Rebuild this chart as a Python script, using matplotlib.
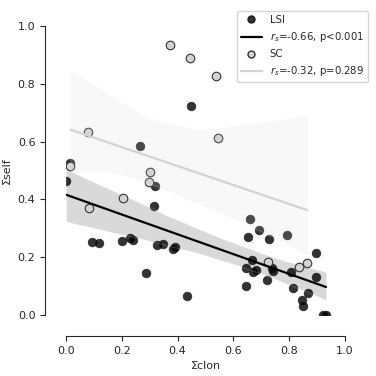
import matplotlib
matplotlib.use('Agg')
import matplotlib.pyplot as plt
import numpy as np
import seaborn as sns
from matplotlib.lines import Line2D

# LSI group
lsi_clon = [0.000, 0.014, 0.092, 0.117, 0.199, 0.229, 0.241, 0.265, 0.288, 0.317,
            0.320, 0.325, 0.348, 0.385, 0.391, 0.432, 0.447, 0.645, 0.645, 0.653,
            0.661, 0.667, 0.671, 0.681, 0.690, 0.719, 0.729, 0.738, 0.742, 0.791,
            0.806, 0.815, 0.846, 0.851, 0.869, 0.895, 0.895, 0.922, 0.932]
lsi_self = [0.465, 0.527, 0.254, 0.250, 0.255, 0.266, 0.258, 0.585, 0.146, 0.377,
            0.447, 0.242, 0.245, 0.228, 0.234, 0.067, 0.723, 0.162, 0.101, 0.271,
            0.332, 0.189, 0.149, 0.156, 0.294, 0.121, 0.264, 0.163, 0.152, 0.276,
            0.148, 0.092, 0.052, 0.032, 0.075, 0.133, 0.213, 0.000, 0.000]

# SC group
sc_clon = [0.016, 0.079, 0.081, 0.203, 0.296, 0.300, 0.373, 0.443, 0.536, 0.545,
           0.725, 0.836, 0.865]
sc_self = [0.517, 0.632, 0.370, 0.404, 0.459, 0.495, 0.934, 0.889, 0.826, 0.611,
           0.184, 0.165, 0.181]

lsi_label = r'$r_s$=-0.66, p<0.001'
sc_label = r'$r_s$=-0.32, p=0.289'

sns.set_style('ticks')
plt.rcParams['font.size'] = 8

fig = plt.figure(figsize=(3.76, 3.76), dpi=100)
ax = fig.add_axes([66 / 376, 61 / 376, 279 / 376, 289 / 376])

sns.regplot(x=np.array(lsi_clon), y=np.array(lsi_self), ax=ax, color='black', seed=1,
            scatter_kws=dict(s=38, edgecolors='#1a1a1a', linewidths=0.6),
            line_kws=dict(lw=1.6))
sns.regplot(x=np.array(sc_clon), y=np.array(sc_self), ax=ax, color='lightgray', seed=1,
            ci=90,
            scatter_kws=dict(s=38, edgecolors='#333333', linewidths=0.8, alpha=1.0),
            line_kws=dict(lw=1.6))

ax.set_xlim(0, 1)
ax.set_ylim(0, 1)
ax.set_xticks([0.0, 0.2, 0.4, 0.6, 0.8, 1.0])
ax.set_yticks([0.0, 0.2, 0.4, 0.6, 0.8, 1.0])
ax.tick_params(labelsize=8)
ax.set_xlabel('Σclon', fontsize=8)
ax.set_ylabel('Σself', fontsize=8)
sns.despine(ax=ax, offset=15, trim=True)

handles = [
    Line2D([], [], ls='', marker='o', ms=5, mfc='#333333', mec='#1a1a1a'),
    Line2D([], [], color='black', lw=1.6),
    Line2D([], [], ls='', marker='o', ms=5, mfc='lightgray', mec='#333333'),
    Line2D([], [], color='lightgray', lw=1.6),
]
labels = ['LSI', lsi_label, 'SC', sc_label]
ax.legend(handles, labels, loc='upper right', bbox_to_anchor=(1.082, 1.052),
          borderaxespad=0, fontsize=7.3, frameon=True)

fig.savefig('out.png', dpi=100)
